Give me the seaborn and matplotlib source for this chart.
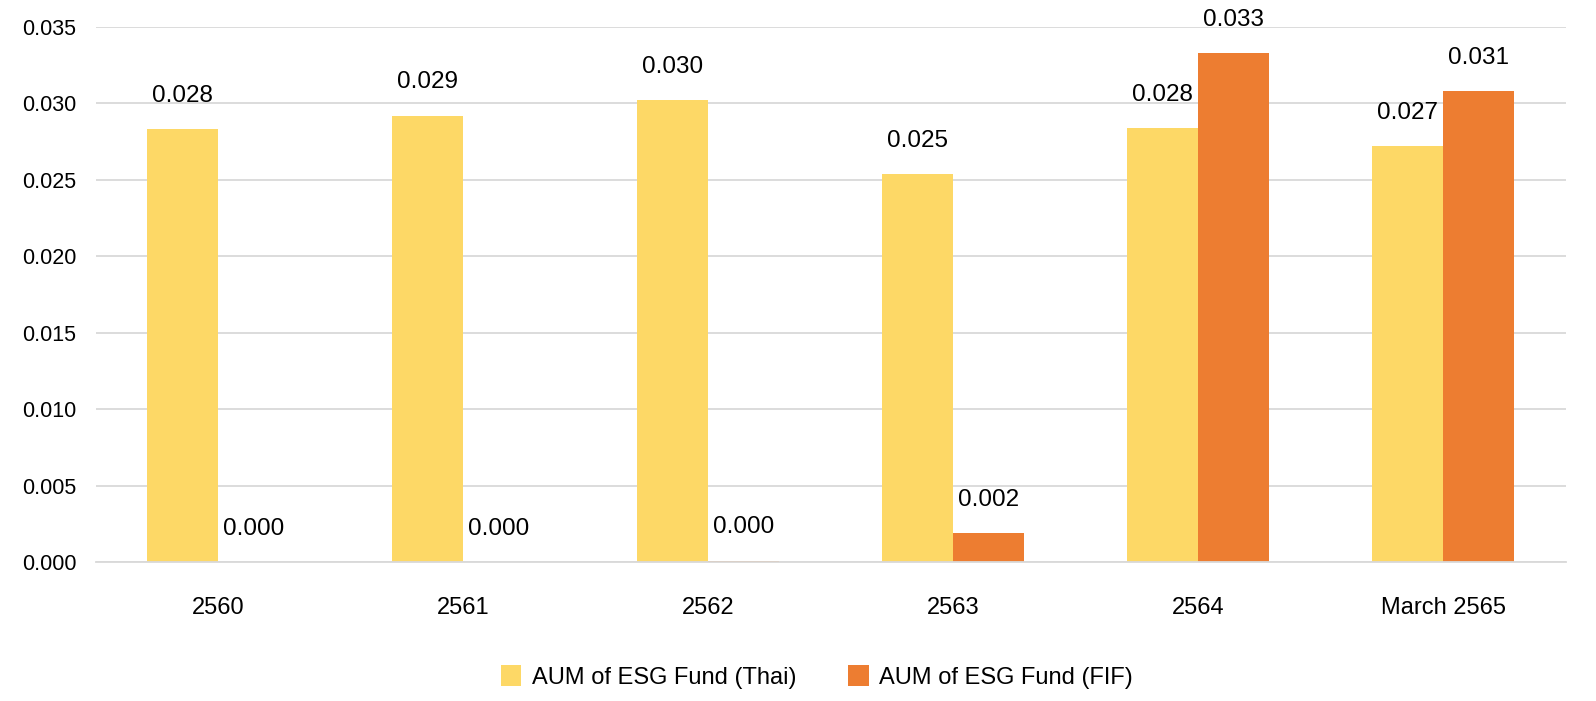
import matplotlib
matplotlib.use("Agg")
import matplotlib.pyplot as plt
import seaborn as sns
import pandas as pd

categories = ["2560", "2561", "2562", "2563", "2564", "March 2565"]
thai_values = [0.0283, 0.0292, 0.0302, 0.0254, 0.0284, 0.0272]
fif_values = [0.0, 0.0, 0.0001, 0.0019, 0.0333, 0.0308]
series_names = ["AUM of ESG Fund (Thai)", "AUM of ESG Fund (FIF)"]
colors = ["#FDD866", "#ED7D31"]

df = pd.DataFrame({
    "category": categories * 2,
    "series": [series_names[0]] * len(categories) + [series_names[1]] * len(categories),
    "value": thai_values + fif_values,
})

sns.set_theme(style="white")
plt.rcParams["font.family"] = ["Liberation Sans", "DejaVu Sans"]
plt.rcParams["text.color"] = "black"
plt.rcParams["xtick.color"] = "black"
plt.rcParams["ytick.color"] = "black"

fig = plt.figure(figsize=(15.96, 7.01), dpi=100)
ax = fig.add_axes([0.060, 0.198, 0.921, 0.7635])

sns.barplot(data=df, x="category", y="value", hue="series", palette=colors,
            width=0.58, saturation=1, ax=ax, edgecolor="none", linewidth=0)

ax.set_ylim(0, 0.035)
ax.set_yticks([0.0, 0.005, 0.010, 0.015, 0.020, 0.025, 0.030, 0.035])
ax.set_yticklabels([f"{v:.3f}" for v in ax.get_yticks()], fontsize=15.5)
ax.yaxis.grid(True, color="#D9D9D9", linewidth=1.3)
ax.set_axisbelow(True)
ax.tick_params(axis="x", length=0, pad=25, labelsize=17)
ax.tick_params(axis="y", length=0, pad=14)
ax.set_xlabel("")
ax.set_ylabel("")
for s in ["top", "right", "left"]:
    ax.spines[s].set_visible(False)
ax.spines["bottom"].set_color("#D9D9D9")
ax.spines["bottom"].set_linewidth(1.3)

for cont in ax.containers:
    ax.bar_label(cont, fmt="%.3f", padding=16, fontsize=17.5, color="black")

handles, labels = ax.get_legend_handles_labels()
ax.legend_.remove()
fig.legend(handles, labels, loc="center", bbox_to_anchor=(0.512, 0.034), ncol=2,
           frameon=False, fontsize=17, handlelength=0.85, handleheight=1.0,
           columnspacing=2.2, handletextpad=0.45)

fig.savefig("out.png", dpi=100)
